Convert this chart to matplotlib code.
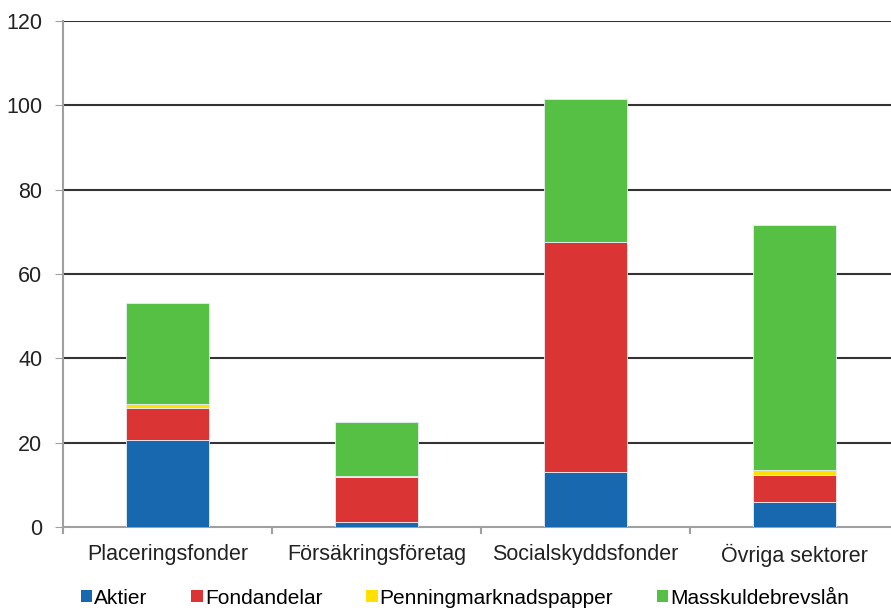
import matplotlib
matplotlib.use("Agg")
import matplotlib.pyplot as plt
from matplotlib.patches import Patch
import numpy as np

# data
sektorer = ["Placeringsfonder", "Försäkringsföretag", "Socialskyddsfonder", "Övriga sektorer"]
aktier = [20.6, 1.3, 13.1, 5.9]
fondandelar = [7.7, 10.5, 54.5, 6.4]
penningmarknadspapper = [0.8, 0.2, 0.1, 1.2]
masskuldebrevslan = [24.0, 12.9, 33.7, 58.1]

serier = ["Aktier", "Fondandelar", "Penningmarknadspapper", "Masskuldebrevslån"]
farger = ["#1868b0", "#db3434", "#ffe000", "#55c044"]

plt.rcParams["font.family"] = ["Liberation Sans", "DejaVu Sans"]

fig = plt.figure(figsize=(8.91, 6.08), dpi=100)
ax = fig.add_axes([63 / 891, 81 / 608, 836 / 891, 506 / 608])

x = np.arange(len(sektorer))
bottom = np.zeros(len(sektorer))
for vals, col in zip([aktier, fondandelar, penningmarknadspapper, masskuldebrevslan], farger):
    ax.bar(x, vals, 0.4, bottom=bottom, color=col, edgecolor="#e8eef5", linewidth=0.6, zorder=3)
    bottom += np.array(vals)

ax.set_xlim(-0.5, 3.5)
ax.set_ylim(0, 120)
ax.set_yticks(range(0, 121, 20))
ax.tick_params(axis="y", length=6, color="#a0a0a0", labelsize=15.5, pad=9, labelcolor="#222222")

# gridlines
for v in range(20, 121, 20):
    ax.axhline(v, color="#333333", linewidth=1.5, zorder=1)

# category labels, ticks between categories
ax.set_xticks(x)
ax.set_xticklabels(sektorer)
ax.tick_params(axis="x", length=0, labelsize=15.5, pad=12, labelcolor="#222222")
for b in np.arange(-0.5, 3.6, 1):
    ax.plot([b, b], [0, -1.5], color="#a0a0a0", linewidth=1.5, clip_on=False)

for s in ["top", "right"]:
    ax.spines[s].set_visible(False)
ax.spines["left"].set_color("#a0a0a0")
ax.spines["bottom"].set_color("#a0a0a0")
ax.spines["left"].set_linewidth(1.5)
ax.spines["bottom"].set_linewidth(1.5)

handles = [Patch(facecolor=c, edgecolor="none") for c in farger]
fig.legend(handles, serier, loc="center", bbox_to_anchor=(465 / 891, 10 / 608), ncol=4,
           frameon=False, fontsize=15, handlelength=0.55, handleheight=0.55,
           handletextpad=0.1, columnspacing=2.1, borderaxespad=0)

fig.savefig("out.png", dpi=100)
